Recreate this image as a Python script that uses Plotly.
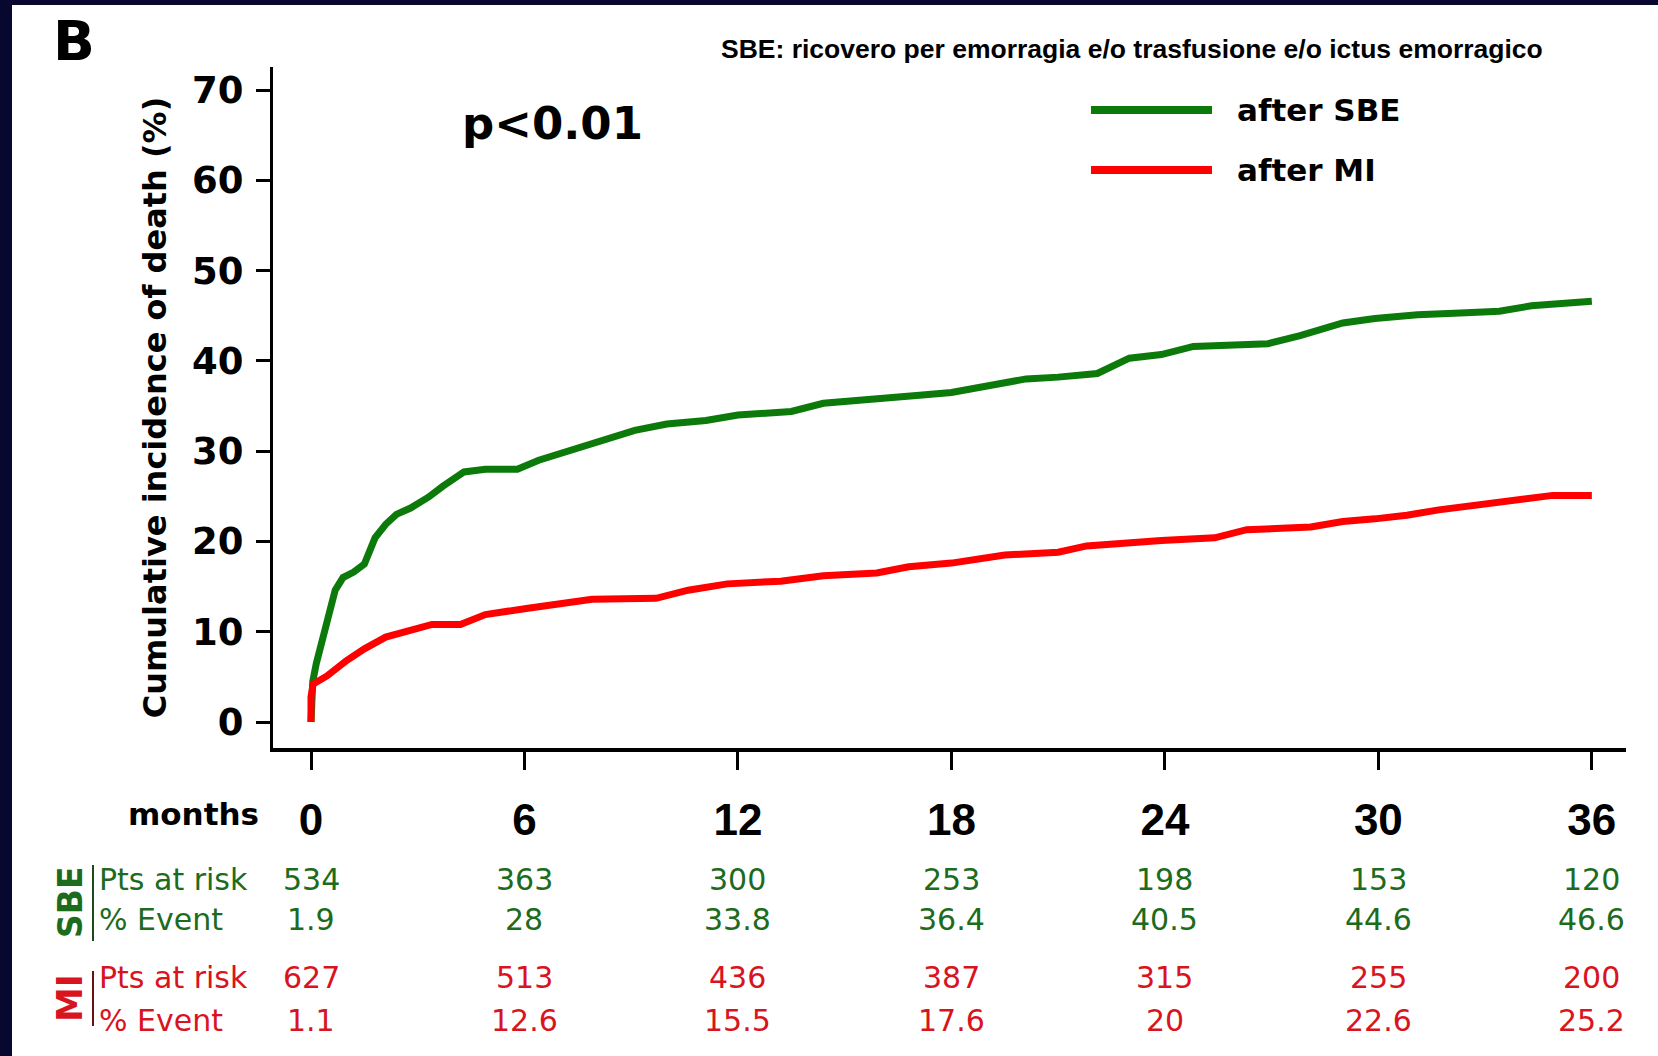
import plotly.graph_objects as go

# Cumulative incidence of death (%) by months since event
sbe_months = [0, 0.05, 0.15, 0.3, 0.45, 0.68, 0.9, 1.2, 1.5, 1.8, 2.1, 2.4, 2.8, 3.3, 3.7,
              4.3, 4.9, 5.8, 6.4, 7.3, 8.2, 9.1, 10, 11.1, 12, 13.5, 14.4, 15.9, 17.1, 18,
              19.2, 20.1, 21, 22.1, 23, 23.9, 24.8, 25.7, 26.9, 27.8, 29, 29.9, 31.1, 32.3,
              33.4, 34.3, 35.2, 36]
sbe_incidence = [0, 4.5, 6.5, 9.0, 11.5, 14.6, 16, 16.6, 17.5, 20.4, 21.9, 23, 23.7, 24.9,
                 26.1, 27.7, 28, 28, 29, 30.1, 31.3, 32.3, 33, 33.4, 34, 34.4, 35.3, 35.9,
                 36.2, 36.5, 37.4, 38, 38.2, 38.6, 40.3, 40.7, 41.6, 41.8, 41.9, 42.8, 44.2,
                 44.7, 45.1, 45.3, 45.5, 46.1, 46.4, 46.6]

mi_months = [0, 0, 0.06, 0.45, 1.0, 1.5, 2.1, 2.7, 3.4, 4.2, 4.9, 6.1, 7.0, 7.9, 9.7, 10.6,
             11.7, 13.2, 14.4, 15.9, 16.8, 18, 19.5, 21, 21.8, 22.7, 23.9, 25.4, 26.3, 28.1,
             29, 29.9, 30.8, 31.7, 32.9, 34, 34.9, 36]
mi_incidence = [0, 2.8, 4.2, 5.1, 6.8, 8.1, 9.4, 10.1, 10.8, 10.8, 11.9, 12.6, 13.1, 13.6,
                13.7, 14.6, 15.3, 15.6, 16.2, 16.5, 17.2, 17.6, 18.5, 18.8, 19.5, 19.8, 20.1,
                20.4, 21.3, 21.6, 22.2, 22.5, 22.9, 23.5, 24.1, 24.6, 25.1, 25.1]

# Risk table
table_months = [0, 6, 12, 18, 24, 30, 36]
month_labels = ["0", "6", "12", "18", "24", "30", "36"]
y_ticks = [0, 10, 20, 30, 40, 50, 60, 70]
y_tick_labels = ["0", "10", "20", "30", "40", "50", "60", "70"]
sbe_at_risk = ["534", "363", "300", "253", "198", "153", "120"]
sbe_event_pct = ["1.9", "28", "33.8", "36.4", "40.5", "44.6", "46.6"]
mi_at_risk = ["627", "513", "436", "387", "315", "255", "200"]
mi_event_pct = ["1.1", "12.6", "15.5", "17.6", "20", "22.6", "25.2"]

series_names = ["after SBE", "after MI"]
line_colors = ["#0b7a0b", "#ff0000"]
text_green = "#1d6b1d"
text_red = "#d8141e"
navy = "#07072f"

W, H = 1658, 1056
L, R, T, B = 273, 32, 67, 308
PW, PH = W - L - R, H - T - B


def px(xp):
    return (xp - L) / PW


def py(yp):
    return (H - B - yp) / PH


BOLD = "DejaVu Sans"
ARIAL = "Liberation Sans, Arial"

fig = go.Figure()
fig.add_trace(go.Scatter(x=sbe_months, y=sbe_incidence, mode="lines", name=series_names[0],
                         line=dict(color=line_colors[0], width=7), showlegend=False))
fig.add_trace(go.Scatter(x=mi_months, y=mi_incidence, mode="lines", name=series_names[1],
                         line=dict(color=line_colors[1], width=7), showlegend=False))

shapes = []
annotations = []

# frame strips on top and left
shapes.append(dict(type="rect", xref="paper", yref="paper", x0=px(0), x1=px(W), y0=py(5), y1=py(0),
                   fillcolor=navy, line=dict(width=0), layer="above"))
shapes.append(dict(type="rect", xref="paper", yref="paper", x0=px(0), x1=px(12), y0=py(H), y1=py(0),
                   fillcolor=navy, line=dict(width=0), layer="above"))

# custom legend
legend_y = [110, 170]
for name, color, ly in zip(series_names, line_colors, legend_y):
    shapes.append(dict(type="line", xref="paper", yref="paper", x0=px(1091), x1=px(1212),
                       y0=py(ly), y1=py(ly), line=dict(color=color, width=8)))
    annotations.append(dict(text=name, xref="paper", yref="paper", x=px(1235), y=py(ly),
                            xanchor="left", yanchor="middle", showarrow=False,
                            font=dict(family=BOLD, size=31, color="black", weight="bold")))

# panel letter, header note, p-value
annotations.append(dict(text="B", xref="paper", yref="paper", x=px(51), y=py(41),
                        xanchor="left", yanchor="middle", showarrow=False,
                        font=dict(family=BOLD, size=55, color="black", weight="bold")))
annotations.append(dict(text="SBE: ricovero per emorragia e/o trasfusione e/o ictus emorragico",
                        xref="paper", yref="paper", x=px(719), y=py(49), xanchor="left",
                        yanchor="middle", showarrow=False,
                        font=dict(family=ARIAL, size=26.5, color="black", weight="bold")))
annotations.append(dict(text="p<0.01", xref="paper", yref="paper", x=px(460), y=py(124),
                        xanchor="left", yanchor="middle", showarrow=False,
                        font=dict(family=BOLD, size=45, color="black", weight="bold")))

# risk table
annotations.append(dict(text="months", xref="paper", yref="paper", x=px(126), y=py(814),
                        xanchor="left", yanchor="middle", showarrow=False,
                        font=dict(family=BOLD, size=31, color="black", weight="bold")))
rows = [
    ("Pts at risk", sbe_at_risk, text_green, 879),
    ("% Event", sbe_event_pct, text_green, 919),
    ("Pts at risk", mi_at_risk, text_red, 977),
    ("% Event", mi_event_pct, text_red, 1020),
]
for label, vals, color, ry in rows:
    annotations.append(dict(text=label, xref="paper", yref="paper", x=px(97), y=py(ry),
                            xanchor="left", yanchor="middle", showarrow=False,
                            font=dict(family="DejaVu Sans", size=30, color=color)))
    for m, v in zip(table_months, vals):
        annotations.append(dict(text=v, xref="x", yref="paper", x=m, y=py(ry),
                                xanchor="center", yanchor="middle", showarrow=False,
                                font=dict(family="DejaVu Sans", size=30, color=color)))

# group labels with separators
annotations.append(dict(text="SBE", xref="paper", yref="paper", x=px(70), y=py(903),
                        xanchor="center", yanchor="middle", textangle=-90, showarrow=False,
                        font=dict(family=BOLD, size=33, color=text_green, weight="bold")))
annotations.append(dict(text="MI", xref="paper", yref="paper", x=px(70), y=py(998),
                        xanchor="center", yanchor="middle", textangle=-90, showarrow=False,
                        font=dict(family=BOLD, size=35, color=text_red, weight="bold")))
shapes.append(dict(type="line", xref="paper", yref="paper", x0=px(93), x1=px(93),
                   y0=py(865), y1=py(941), line=dict(color="#1d4a1d", width=2)))
shapes.append(dict(type="line", xref="paper", yref="paper", x0=px(93), x1=px(93),
                   y0=py(971), y1=py(1026), line=dict(color="#6a1010", width=2)))

fig.update_layout(
    width=W, height=H,
    margin=dict(l=L, r=R, t=T, b=B, pad=0),
    paper_bgcolor="white", plot_bgcolor="white",
    shapes=shapes, annotations=annotations,
    showlegend=False,
    xaxis=dict(range=[-1.068, 36.96], showgrid=False, zeroline=False,
               showline=True, linecolor="black", linewidth=4,
               ticks="outside", ticklen=18, tickwidth=2.5, tickcolor="black",
               tickvals=table_months, ticktext=month_labels, ticklabelstandoff=12,
               tickfont=dict(family=ARIAL, size=44, color="black", weight="bold")),
    yaxis=dict(range=[-2.88, 72.55], showgrid=False, zeroline=False,
               showline=True, linecolor="black", linewidth=3,
               ticks="outside", ticklen=14, tickwidth=2.5, tickcolor="black",
               tickvals=y_ticks, ticktext=y_tick_labels, ticklabelstandoff=5,
               tickfont=dict(family=BOLD, size=37, color="black", weight="bold"),
               title=dict(text="Cumulative incidence of death (%)", standoff=16,
                          font=dict(family=BOLD, size=32, color="black", weight="bold"))),
)

fig.write_html("out.html")
